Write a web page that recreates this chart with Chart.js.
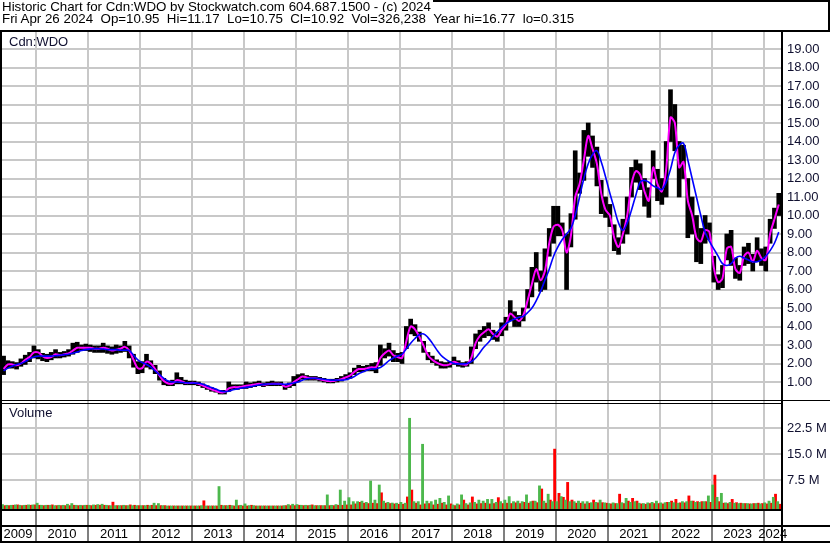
<!DOCTYPE html>
<html>
<head>
<meta charset="utf-8">
<script src="https://cdn.jsdelivr.net/npm/chart.js@4.4.1/dist/chart.umd.min.js"></script>
<style>
  html, body { margin: 0; padding: 0; background: #fff; }
  body { width: 830px; height: 543px; position: relative; overflow: hidden; font-family: "Liberation Sans", Arial, sans-serif; }
  #chart { position: absolute; left: 0; top: 0; }
  #head { position: absolute; left: 0; top: 0; width: 830px; height: 31px; box-sizing: border-box; border-top: 2px solid #000; border-right: 2px solid #000; }
  .line { position: absolute; left: 0; font-size: 13.33px; line-height: 13px; background: #fff; white-space: pre; color: #000; padding: 0 2px 0 2px; }
  .tag { position: absolute; left: 9px; font-size: 13px; line-height: 15px; color: #101030; }
</style>
</head>
<body>
<canvas id="chart" width="830" height="543"></canvas>
<div id="head">
  <div class="line" style="top:-2px">Historic Chart for Cdn:WDO by Stockwatch.com 604.687.1500 - (c) 2024</div>
  <div class="line" style="top:10px">Fri Apr 26 2024  Op=10.95  Hi=11.17  Lo=10.75  Cl=10.92  Vol=326,238  Year hi=16.77  lo=0.315</div>
</div>
<div class="tag" style="top:34px">Cdn:WDO</div>
<div class="tag" style="top:405px">Volume</div>
<script>
// monthly data, May 2009 .. Apr 2024 (one row per year)
const START_YEAR = 2009;
const START_MONTH = 5;
const years = [2009, 2010, 2011, 2012, 2013, 2014, 2015, 2016, 2017, 2018, 2019, 2020, 2021, 2022, 2023, 2024];
const priceTicks = [1, 2, 3, 4, 5, 6, 7, 8, 9, 10, 11, 12, 13, 14, 15, 16, 17, 18, 19];
const volTicks = [7.5, 15, 22.5];

const low = [
  1.4, 1.75, 1.75, 1.7, 1.85, 1.95, 2.1, 2.3,
  2.25, 2.15, 2.1, 2.2, 2.3, 2.3, 2.35, 2.4, 2.5, 2.6, 2.7, 2.7,
  2.65, 2.6, 2.6, 2.6, 2.55, 2.5, 2.55, 2.6, 2.65, 2.3, 1.8, 1.45,
  1.5, 1.8, 1.7, 1.45, 1.1, 0.85, 0.8, 0.8, 0.9, 0.9, 0.85, 0.85,
  0.85, 0.8, 0.7, 0.6, 0.5, 0.45, 0.35, 0.35, 0.5, 0.6, 0.6, 0.65,
  0.65, 0.7, 0.75, 0.8, 0.75, 0.8, 0.8, 0.8, 0.8, 0.6, 0.7, 0.8,
  1.0, 1.15, 1.1, 1.1, 1.1, 1.05, 1.0, 0.95, 0.95, 1.0, 1.05, 1.15,
  1.2, 1.4, 1.55, 1.55, 1.6, 1.6, 1.5, 1.9, 2.3, 2.4, 2.1, 2.1,
  2.0, 2.8, 3.6, 3.5, 3.2, 2.6, 2.2, 2.05, 1.9, 1.75, 1.75, 1.8,
  1.95, 1.85, 1.8, 1.85, 2.0, 2.8, 3.2, 3.4, 3.5, 3.3, 3.2, 3.5,
  3.8, 4.3, 4.0, 4.0, 4.3, 5.0, 5.6, 6.4, 5.9, 6.0, 7.8, 8.5,
  8.9, 8.9, 6.0, 8.3, 9.8, 11.2, 11.9, 13.2, 12.6, 11.6, 10.1, 9.9,
  9.4, 8.1, 7.9, 8.5, 9.0, 11.0, 11.8, 11.4, 10.5, 9.9, 12.0, 10.8,
  10.6, 11.0, 14.0, 13.5, 11.0, 12.0, 8.8, 9.0, 7.5, 7.4, 8.5, 8.7,
  6.4, 6.0, 6.1, 7.6, 7.3, 6.6, 6.5, 7.3, 7.4, 7.0, 7.5, 7.3,
  7.0, 8.5, 9.3, 10.0
];
const high = [
  2.4, 2.15, 2.1, 2.05, 2.25, 2.45, 2.6, 2.95,
  2.75, 2.55, 2.5, 2.6, 2.75, 2.6, 2.65, 2.75, 3.1, 3.15, 3.0, 3.05,
  3.0, 2.95, 2.95, 3.1, 2.95, 2.9, 3.0, 2.95, 3.2, 2.95, 2.5, 2.1,
  2.1, 2.5, 2.15, 1.9, 1.6, 1.2, 1.05, 1.1, 1.5, 1.25, 1.1, 1.05,
  1.05, 1.0, 0.9, 0.8, 0.7, 0.6, 0.55, 0.55, 1.0, 0.85, 0.85, 0.85,
  1.0, 0.95, 1.0, 1.05, 0.95, 1.0, 1.05, 1.0, 1.0, 0.85, 0.95, 1.3,
  1.4, 1.45, 1.35, 1.3, 1.3, 1.25, 1.2, 1.15, 1.15, 1.2, 1.3, 1.4,
  1.5, 1.75, 1.9, 1.85, 1.9, 2.0, 2.05, 3.0, 2.8, 3.1, 2.7, 2.55,
  2.6, 4.0, 4.4, 4.1, 3.7, 3.2, 2.6, 2.4, 2.2, 2.1, 2.05, 2.1,
  2.35, 2.15, 2.05, 2.1, 2.9, 3.6, 3.8, 4.0, 4.2, 3.8, 3.7, 4.2,
  4.5, 5.4, 4.8, 4.6, 5.0, 6.0, 7.2, 8.0, 7.0, 8.2, 9.3, 10.5,
  10.5, 9.6, 9.0, 10.1, 13.5, 12.3, 14.6, 15.0, 14.3, 13.7, 11.9, 11.0,
  10.6, 9.5, 8.8, 9.8, 11.0, 12.6, 13.0, 12.8, 12.0, 11.5, 13.5, 12.5,
  12.0, 14.0, 16.8, 16.0, 14.0, 13.8, 12.0, 11.0, 10.0, 9.3, 10.0, 9.6,
  7.8, 6.8, 7.3, 9.0, 9.2, 7.7, 7.3, 8.3, 8.5, 7.9, 8.8, 8.2,
  8.3, 9.8, 10.4, 11.2
];
// short moving average (magenta)
const maShort = [
  1.7, 1.95, 1.95, 1.9, 2.0, 2.2, 2.35, 2.6,
  2.6, 2.4, 2.3, 2.35, 2.5, 2.45, 2.5, 2.55, 2.7, 2.85, 2.85, 2.85,
  2.85, 2.8, 2.8, 2.85, 2.8, 2.7, 2.75, 2.8, 2.9, 2.7, 2.2, 1.75,
  1.75, 2.1, 2.0, 1.7, 1.35, 1.05, 0.92, 0.92, 1.1, 1.05, 0.95, 0.95,
  0.95, 0.9, 0.8, 0.7, 0.6, 0.52, 0.45, 0.45, 0.65, 0.72, 0.72, 0.75,
  0.8, 0.82, 0.86, 0.9, 0.85, 0.88, 0.9, 0.9, 0.9, 0.75, 0.8, 1.0,
  1.15, 1.3, 1.25, 1.2, 1.2, 1.15, 1.1, 1.05, 1.05, 1.1, 1.15, 1.25,
  1.35, 1.55, 1.7, 1.7, 1.75, 1.8, 1.8, 2.3, 2.55, 2.7, 2.45, 2.35,
  2.3, 3.2, 4.0, 3.85, 3.45, 2.95, 2.45, 2.2, 2.05, 1.95, 1.9, 1.95,
  2.1, 2.0, 1.95, 1.95, 2.3, 3.1, 3.5, 3.7, 3.85, 3.6, 3.45, 3.8,
  4.1, 4.7, 4.5, 4.3, 4.6, 5.4, 6.3, 7.1, 6.5, 7.0, 8.5, 9.4,
  9.5, 9.2, 8.0, 8.9, 11.0, 11.7, 13.0, 14.3, 13.6, 12.8, 11.2, 10.3,
  10.0, 8.8, 8.3, 9.0, 10.0, 11.7, 12.4, 12.2, 11.3, 10.8, 12.6, 11.7,
  11.3, 12.5, 15.3, 15.0, 12.6, 12.9, 10.8, 10.0, 8.8, 8.6, 9.2, 9.1,
  7.2, 6.4, 6.6, 8.2, 8.3, 7.1, 6.9, 7.8, 8.0, 7.5, 8.1, 7.7,
  7.6, 9.0, 9.8, 10.6
];
// long moving average (blue)
const maLong = [
  1.6, 1.75, 1.85, 1.95, 2.0, 2.1, 2.25, 2.35,
  2.4, 2.4, 2.4, 2.4, 2.42, 2.45, 2.48, 2.5, 2.55, 2.62, 2.7, 2.75,
  2.78, 2.8, 2.8, 2.78, 2.75, 2.75, 2.75, 2.72, 2.72, 2.7, 2.45, 2.2,
  2.05, 1.95, 1.8, 1.6, 1.4, 1.2, 1.05, 1.0, 1.0, 0.98, 0.96, 0.95,
  0.94, 0.93, 0.88, 0.8, 0.7, 0.62, 0.52, 0.48, 0.5, 0.58, 0.63, 0.68,
  0.71, 0.75, 0.8, 0.84, 0.87, 0.89, 0.89, 0.89, 0.89, 0.88, 0.9, 0.95,
  1.0, 1.1, 1.18, 1.2, 1.2, 1.18, 1.15, 1.12, 1.1, 1.1, 1.1, 1.12,
  1.2, 1.3, 1.45, 1.55, 1.65, 1.7, 1.72, 1.78, 1.95, 2.15, 2.3, 2.4,
  2.5, 2.8, 3.1, 3.35, 3.55, 3.6, 3.4, 3.1, 2.75, 2.45, 2.25, 2.1,
  2.0, 1.98, 1.98, 2.0, 2.1, 2.3, 2.6, 2.9, 3.15, 3.45, 3.7, 3.95,
  4.15, 4.3, 4.4, 4.5, 4.55, 4.75, 5.0, 5.4, 5.9, 6.5, 7.1, 7.8,
  8.3, 8.7, 9.0, 9.3, 10.0, 11.0, 12.0, 12.8, 13.3, 13.5, 12.9, 12.1,
  11.2, 10.4, 9.6, 9.2, 9.6, 10.3, 11.1, 11.8, 11.9, 11.8, 11.6, 11.5,
  11.4, 11.8, 12.5, 13.4, 13.8, 13.9, 13.0, 12.0, 11.0, 10.0, 9.1, 8.6,
  8.2, 7.8, 7.4, 7.3, 7.4, 7.7, 7.8, 7.7, 7.6, 7.5, 7.5, 7.6,
  7.8, 8.1, 8.5, 9.1
];
// volume in millions: up days (green) and down days (red)
const volUp = [
  0.5, 0.3, 0.3, 0.4, 0.3, 0.3, 0.4, 0.4,
  0.9, 0.3, 0.3, 0.3, 0.2, 0.3, 0.3, 0.6, 0.8, 0.3, 0.3, 0.3,
  0.3, 0.4, 0.5, 0.6, 0.3, 0.2, 0.2, 0.2, 0.3, 0.2, 0.2, 0.2,
  0.2, 0.2, 0.2, 0.9, 0.8, 0.2, 0.1, 0.1, 0.1, 0.1, 0.1, 0.1,
  0.1, 0.1, 0.2, 0.1, 0.1, 0.1, 5.7, 0.2, 0.2, 0.2, 1.8, 0.3,
  0.7, 0.2, 0.2, 0.1, 0.1, 0.1, 0.1, 0.1, 0.1, 0.2, 0.5, 0.6,
  0.5, 0.3, 0.3, 0.3, 0.2, 0.2, 0.2, 3.3, 0.3, 0.5, 4.7, 1.5,
  2.5, 1.35, 1.35, 1.5, 1.15, 7.3, 1.8, 6.15, 1.5, 1.15, 0.95, 0.9,
  1.15, 0.9, 25.4, 1.35, 1.35, 17.9, 1.5, 1.35, 1.8, 2.3, 1.15, 3.0,
  0.4, 0.7, 3.3, 0.8, 1.0, 1.15, 1.8, 1.5, 2.0, 2.0, 1.15, 1.35,
  1.8, 2.8, 1.35, 1.5, 1.35, 3.3, 1.35, 1.5, 5.9, 1.5, 3.5, 1.35,
  1.35, 2.8, 1.8, 1.35, 1.35, 1.5, 1.35, 1.35, 1.05, 1.15, 1.8, 1.0,
  0.8, 1.0, 0.8, 1.05, 2.3, 1.15, 1.35, 0.9, 0.8, 1.0, 1.15, 1.5,
  1.0, 1.05, 1.15, 1.05, 0.9, 1.35, 1.35, 1.5, 1.15, 1.15, 1.35, 3.0,
  6.15, 2.6, 3.75, 1.0, 1.15, 0.9, 0.8, 0.8, 0.8, 0.7, 0.8, 0.7,
  1.0, 1.5, 2.6, 1.35
];
const volDown = [
  0.2, 0.2, 0.3, 0.4, 0.2, 0.3, 0.3, 0.4,
  0.3, 0.2, 0.3, 0.4, 0.2, 0.2, 0.2, 0.2, 0.3, 0.2, 0.2, 0.3,
  0.2, 0.3, 0.3, 0.3, 0.2, 1.2, 0.2, 0.2, 0.2, 0.4, 0.3, 0.2,
  0.2, 0.3, 0.3, 0.2, 0.2, 0.2, 0.1, 0.1, 0.1, 0.1, 0.1, 0.1,
  0.1, 0.1, 1.6, 0.1, 0.1, 0.1, 0.3, 0.2, 0.3, 0.1, 0.2, 0.1,
  0.1, 0.3, 0.1, 0.1, 0.1, 0.1, 0.1, 0.1, 0.1, 0.2, 0.2, 0.2,
  0.3, 0.2, 0.2, 0.4, 0.2, 0.2, 0.2, 0.2, 0.2, 0.3, 0.3, 0.4,
  0.4, 0.7, 1.15, 0.9, 0.8, 0.9, 0.8, 3.9, 0.9, 0.8, 0.7, 0.6,
  0.6, 2.7, 4.7, 0.9, 0.4, 0.7, 0.8, 0.4, 0.6, 0.9, 0.4, 0.7,
  0.2, 0.4, 1.8, 0.4, 2.7, 0.7, 0.8, 0.9, 0.7, 0.8, 2.5, 0.8,
  0.9, 0.8, 1.0, 0.8, 1.15, 0.9, 1.5, 1.05, 5.0, 0.9, 1.8, 16.5,
  3.75, 2.6, 6.9, 1.8, 0.9, 0.9, 0.7, 0.9, 1.8, 1.0, 1.05, 0.9,
  0.7, 0.8, 3.5, 0.8, 1.5, 2.3, 1.5, 0.7, 0.6, 0.8, 0.8, 0.8,
  0.7, 1.15, 1.5, 2.0, 1.0, 1.0, 3.0, 1.5, 1.35, 1.35, 1.35, 1.15,
  9.0, 1.35, 0.9, 0.8, 2.0, 1.05, 0.9, 0.8, 0.7, 0.8, 0.9, 0.8,
  0.7, 0.9, 3.5, 0.6
];

const X_MIN = 2009.306, X_MAX = 2024.354;
const PRICE_MIN = -0.081, PRICE_MAX = 19.92;
const VOL_MIN = -0.78, VOL_MAX = 30.09;
const FONT = { family: "'Liberation Sans', Arial, sans-serif", size: 13 };
const GRID = '#c8c8c8';

// x position of each month (middle of the month, in fractional years)
const monthX = low.map((_, i) => {
  const m = START_MONTH - 1 + i;
  return START_YEAR + Math.floor(m / 12) + ((m % 12) + 0.5) / 12;
});
const HALF = 1 / 48;

// year boundaries carry the grid, year middles carry the labels
const xTicks = [];
years.forEach((yr) => {
  if (yr > X_MIN) xTicks.push({ value: yr });
  const a = Math.max(yr, X_MIN), b = Math.min(yr + 1, X_MAX);
  xTicks.push({ value: (a + b) / 2, year: yr });
});

const frame = {
  id: 'frame',
  afterDraw(chart) {
    const { ctx, chartArea: a, scales } = chart;
    const W = chart.width, H = chart.height;
    ctx.save();
    ctx.fillStyle = '#000';
    const hl = (x0, x1, yy, w) => ctx.fillRect(x0, yy, x1 - x0, w);
    const vl = (xx, y0, y1, w) => ctx.fillRect(xx, y0, w, y1 - y0);
    hl(0, W, a.top - 2, 2);
    vl(0, a.top - 2, H, 2);
    vl(a.right - 1, a.top - 2, H, 2);
    const sep = scales.y.bottom;
    hl(0, W, sep - 2, 1);
    hl(0, a.right, sep + 1, 1);
    hl(0, a.right, a.bottom, 2);
    hl(0, W, a.bottom + 16, 2);
    hl(0, W, H - 2, 2);
    years.forEach((yr) => {
      if (yr > X_MIN && yr < X_MAX) {
        vl(Math.round(scales.x.getPixelForValue(yr)) - 0.5, a.bottom, H, 1);
      }
    });
    ctx.restore();
  }
};

new Chart(document.getElementById('chart').getContext('2d'), {
  type: 'bar',
  data: {
    datasets: [
      {
        type: 'line', label: 'Long MA', yAxisID: 'y',
        data: monthX.map((x, i) => ({ x, y: maLong[i] })),
        borderColor: '#0000ff', borderWidth: 1.6, pointRadius: 0, tension: 0.4
      },
      {
        type: 'line', label: 'Short MA', yAxisID: 'y',
        data: monthX.map((x, i) => ({ x, y: maShort[i] })),
        borderColor: '#ff00ff', borderWidth: 2, pointRadius: 0, tension: 0.3
      },
      {
        label: 'Price', yAxisID: 'y', stack: 'a',
        data: monthX.map((x, i) => ({ x, y: [low[i], high[i]] })),
        backgroundColor: '#000', barThickness: 4
      },
      {
        label: 'Volume up', yAxisID: 'y2', stack: 'a', base: VOL_MIN,
        data: monthX.map((x, i) => ({ x: x - HALF, y: volUp[i] })),
        backgroundColor: '#4db84d', barThickness: 2.2
      },
      {
        label: 'Volume down', yAxisID: 'y2', stack: 'a', base: VOL_MIN,
        data: monthX.map((x, i) => ({ x: x + HALF, y: volDown[i] })),
        backgroundColor: '#ff0000', barThickness: 2.2
      }
    ]
  },
  options: {
    responsive: false,
    animation: false,
    layout: { padding: { top: 32, left: 0, right: 0, bottom: 0 } },
    plugins: { legend: { display: false }, tooltip: { enabled: false } },
    scales: {
      x: {
        type: 'linear', position: 'bottom', min: X_MIN, max: X_MAX, offset: false,
        afterBuildTicks: (axis) => { axis.ticks = xTicks.map((t) => ({ ...t })); },
        afterFit: (axis) => { axis.height = 34; axis.paddingLeft = 0; axis.paddingRight = 0; },
        grid: {
          offset: false, drawTicks: false, lineWidth: 2,
          color: (c) => (c.tick && c.tick.year !== undefined ? 'rgba(0,0,0,0)' : GRID)
        },
        border: { display: false },
        ticks: {
          autoSkip: false, maxRotation: 0, minRotation: 0, padding: 18,
          color: '#000', font: FONT,
          callback: (v, i, ticks) => (ticks[i].year !== undefined ? String(ticks[i].year) : '')
        }
      },
      y: {
        type: 'linear', position: 'right', stack: 'panels', stackWeight: 370,
        min: PRICE_MIN, max: PRICE_MAX, stacked: false,
        afterBuildTicks: (axis) => { axis.ticks = priceTicks.map((v) => ({ value: v })); },
        afterFit: (axis) => { axis.width = 48; },
        grid: { color: GRID, lineWidth: 2, drawTicks: false },
        border: { display: false },
        ticks: { autoSkip: false, padding: 5, color: '#101030', font: FONT, callback: (v) => v.toFixed(2) }
      },
      y2: {
        type: 'linear', position: 'right', stack: 'panels', stackWeight: 107,
        min: VOL_MIN, max: VOL_MAX, stacked: false,
        afterBuildTicks: (axis) => { axis.ticks = volTicks.map((v) => ({ value: v })); },
        afterFit: (axis) => { axis.width = 48; },
        grid: { color: GRID, lineWidth: 2, drawTicks: false },
        border: { display: false },
        ticks: { autoSkip: false, padding: 5, color: '#101030', font: FONT, callback: (v) => v.toFixed(1) + ' M' }
      }
    }
  },
  plugins: [frame]
});
</script>
</body>
</html>
